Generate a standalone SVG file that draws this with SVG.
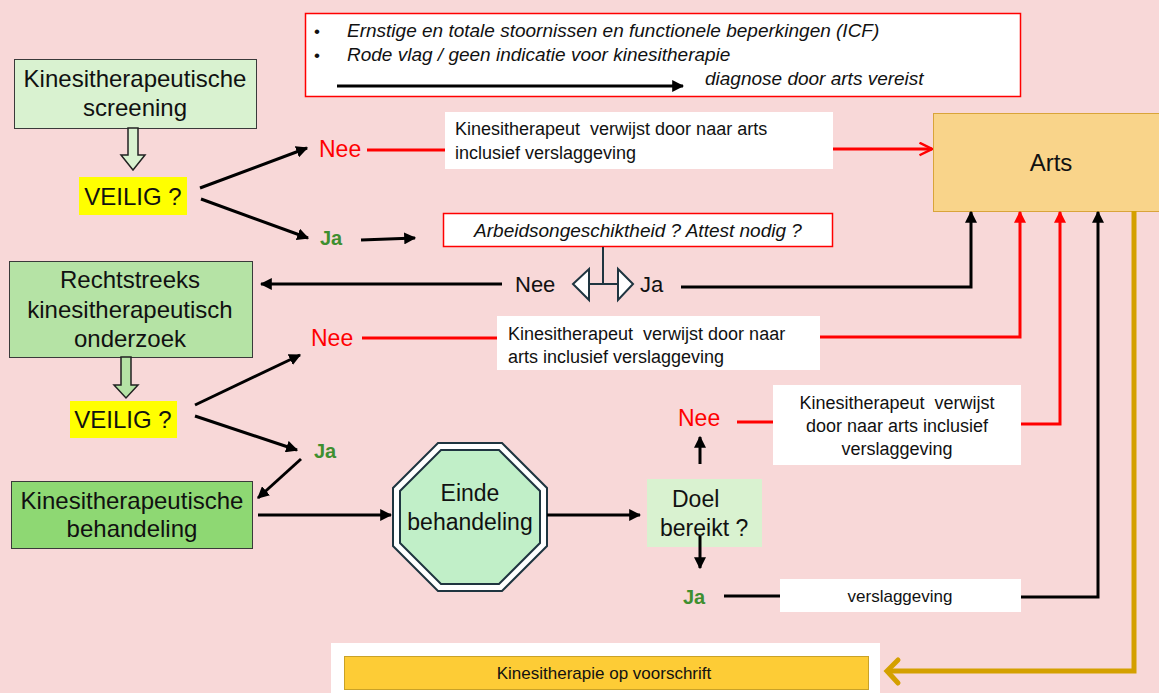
<svg xmlns="http://www.w3.org/2000/svg" width="1159" height="693" viewBox="0 0 1159 693">
<style>
text{font-family:"Liberation Sans",Arial,sans-serif;fill:#111}
.big{font-size:24px}
.mid{font-size:23px}
.sm{font-size:18px;white-space:pre}
.xs{font-size:17px}
.it{font-style:italic;font-size:19px}
.nee{fill:#ff0000;font-size:23px}
.nb{font-size:22px}
.ja{fill:#3f8f2f;font-size:20px;font-weight:bold}
.blk{stroke:#000;stroke-width:3;fill:none}
.red{stroke:#ff0000;stroke-width:3;fill:none}
.wbox{fill:#fff}
</style>
<defs>
<marker id="ab" viewBox="0 0 10 10" refX="9" refY="5" markerWidth="4" markerHeight="4" orient="auto" markerUnits="strokeWidth"><path d="M0,0 L10,5 L0,10 Z" fill="#000"/></marker>
<marker id="ar" viewBox="0 0 10 10" refX="9" refY="5" markerWidth="4" markerHeight="4" orient="auto" markerUnits="strokeWidth"><path d="M0,0 L10,5 L0,10 Z" fill="#ff0000"/></marker>
<marker id="aro" viewBox="0 0 12 12" refX="11" refY="6" markerWidth="5" markerHeight="5" orient="auto" markerUnits="strokeWidth"><path d="M1,1 L11,6 L1,11" fill="none" stroke="#ff0000" stroke-width="2"/></marker>
</defs>
<rect width="1159" height="693" fill="#f8d8d8"/>

<g id="info">
<rect x="305.5" y="13.5" width="715" height="83" fill="#fff" stroke="#ff0000" stroke-width="1.5"/>
<text x="314" y="37" class="xs">•</text>
<text x="347" y="37" class="it">Ernstige en totale stoornissen en functionele beperkingen (ICF)</text>
<text x="314" y="61" class="xs">•</text>
<text x="347" y="61" class="it">Rode vlag / geen indicatie voor kinesitherapie</text>
<line x1="337" y1="86" x2="683" y2="86" class="blk" marker-end="url(#ab)"/>
<text x="705" y="85" class="it">diagnose door arts vereist</text>
</g>

<g id="screening">
<rect x="14.5" y="59.5" width="242" height="69" fill="#d9f2d0" stroke="#3a3a3a"/>
<text x="135" y="87" class="big" text-anchor="middle">Kinesitherapeutische</text>
<text x="135" y="116" class="big" text-anchor="middle">screening</text>
</g>
<path id="hollow1" d="M128,128 H138 V155 H145 L133,170 L121,155 H128 Z" fill="#d9f2d0" stroke="#222" stroke-width="1.5"/>

<g id="veilig1">
<rect x="79" y="177" width="108" height="38" fill="#ffff00"/>
<text x="133" y="205" class="big" text-anchor="middle">VEILIG ?</text>
</g>

<g id="nee1"><text x="319" y="157" class="nee">Nee</text></g>
<g id="ja1"><text x="320" y="245" class="ja">Ja</text></g>

<g id="verwijst1">
<rect x="445" y="112" width="388" height="57" class="wbox"/>
<text x="455" y="135" class="sm">Kinesitherapeut  verwijst door naar arts</text>
<text x="455" y="159" class="sm">inclusief verslaggeving</text>
</g>

<g id="arts">
<rect x="933.5" y="113.5" width="230" height="98" fill="#f9d48a" stroke="#d9a43a"/>
<text x="1051" y="171" class="big" text-anchor="middle">Arts</text>
</g>

<g id="attest">
<rect x="443.5" y="213.5" width="389" height="33" fill="#fff" stroke="#ff0000" stroke-width="1.5"/>
<text x="638" y="237" class="it" text-anchor="middle">Arbeidsongeschiktheid ? Attest nodig ?</text>
</g>

<g id="nee2"><text x="515" y="292" class="nb">Nee</text></g>
<g id="ja2"><text x="640" y="292" class="nb">Ja</text></g>

<g id="onderzoek">
<rect x="9.5" y="261.5" width="243" height="96" fill="#b5e3a5" stroke="#3a3a3a"/>
<text x="130" y="288" class="big" text-anchor="middle">Rechtstreeks</text>
<text x="130" y="318" class="big" text-anchor="middle">kinesitherapeutisch</text>
<text x="130" y="347" class="big" text-anchor="middle">onderzoek</text>
</g>
<path id="hollow2" d="M121,357 H131 V385 H138 L126,398 L114,385 H121 Z" fill="#b5e3a5" stroke="#222" stroke-width="1.5"/>

<g id="veilig2">
<rect x="70" y="401" width="107" height="37" fill="#ffff00"/>
<text x="123" y="428" class="big" text-anchor="middle">VEILIG ?</text>
</g>

<g id="nee3"><text x="311" y="346" class="nee">Nee</text></g>
<g id="verwijst2">
<rect x="497" y="316" width="323" height="54" class="wbox"/>
<text x="508" y="340" class="sm">Kinesitherapeut  verwijst door naar</text>
<text x="508" y="363" class="sm">arts inclusief verslaggeving</text>
</g>

<g id="ja3"><text x="314" y="458" class="ja">Ja</text></g>

<g id="behandeling">
<rect x="11.5" y="481.5" width="241" height="67" fill="#8ed873" stroke="#3a3a3a"/>
<text x="132" y="509" class="big" text-anchor="middle">Kinesitherapeutische</text>
<text x="132" y="537" class="big" text-anchor="middle">behandeling</text>
</g>

<g id="einde">
<polygon points="438,443 502,443 547,488 547,546 502,591 438,591 393,546 393,488" fill="#fff" stroke="#1f3540" stroke-width="2"/>
<polygon points="441,450 499,450 540,491 540,543 499,584 441,584 400,543 400,491" fill="#c1efc8" stroke="#1f3540" stroke-width="2"/>
<text x="470" y="501" class="mid" text-anchor="middle">Einde</text>
<text x="470" y="530" class="mid" text-anchor="middle">behandeling</text>
</g>

<g id="doel">
<rect x="647" y="479" width="115" height="68" fill="#d9f2d0"/>
<text x="672" y="507" class="mid">Doel</text>
<text x="660" y="536" class="mid">bereikt ?</text>
</g>

<g id="nee4"><text x="678" y="426" class="nee">Nee</text></g>
<g id="verwijst3">
<rect x="773" y="385" width="248" height="80" class="wbox"/>
<text x="897" y="409" class="sm" text-anchor="middle">Kinesitherapeut  verwijst</text>
<text x="897" y="432" class="sm" text-anchor="middle">door naar arts inclusief</text>
<text x="897" y="455" class="sm" text-anchor="middle">verslaggeving</text>
</g>

<g id="ja4"><text x="683" y="604" class="ja">Ja</text></g>
<g id="verslag">
<rect x="780" y="579" width="241" height="33" class="wbox"/>
<text x="900" y="602" class="xs" text-anchor="middle">verslaggeving</text>
</g>

<g id="voorschrift">
<rect x="331" y="643" width="549" height="50" fill="#fff"/>
<rect x="344.5" y="656.5" width="524" height="33" fill="#fdcc36" stroke="#c9a227"/>
<text x="604" y="679" class="xs" text-anchor="middle">Kinesitherapie op voorschrift</text>
</g>

<g id="connectors">
<line x1="200" y1="188" x2="307" y2="148" class="blk" marker-end="url(#ab)"/>
<line x1="201" y1="199" x2="308" y2="238" class="blk" marker-end="url(#ab)"/>
<line x1="367" y1="150" x2="445" y2="150" class="red"/>
<line x1="833" y1="149" x2="932" y2="149" class="red" marker-end="url(#aro)"/>
<line x1="361" y1="240" x2="415" y2="238" class="blk" marker-end="url(#ab)"/>
<line x1="603" y1="247" x2="603" y2="284" stroke="#1f3540" stroke-width="2"/>
<line x1="578" y1="284" x2="628" y2="284" stroke="#1f3540" stroke-width="2"/>
<polygon points="573,284 589,269 589,300" fill="#fff" stroke="#1f3540" stroke-width="2"/>
<polygon points="633,284 618,269 618,300" fill="#fff" stroke="#1f3540" stroke-width="2"/>
<line x1="502" y1="284" x2="261" y2="284" class="blk" marker-end="url(#ab)"/>
<polyline points="681,287 971,287 971,212" class="blk" marker-end="url(#ab)"/>
<line x1="195" y1="405" x2="300" y2="355" class="blk" marker-end="url(#ab)"/>
<line x1="195" y1="416" x2="297" y2="450" class="blk" marker-end="url(#ab)"/>
<line x1="362" y1="338" x2="497" y2="338" class="red"/>
<polyline points="820,337 1020,337 1020,212" class="red" marker-end="url(#ar)"/>
<line x1="301" y1="459" x2="258" y2="498" class="blk" marker-end="url(#ab)"/>
<line x1="258" y1="515" x2="391" y2="515" class="blk" marker-end="url(#ab)"/>
<line x1="547" y1="515" x2="640" y2="515" class="blk" marker-end="url(#ab)"/>
<line x1="700" y1="536" x2="700" y2="568" class="blk" marker-end="url(#ab)"/>
<line x1="700" y1="464" x2="700" y2="437" class="blk" marker-end="url(#ab)"/>
<line x1="737" y1="422" x2="773" y2="422" class="red"/>
<polyline points="1021,424 1060,424 1060,212" class="red" marker-end="url(#ar)"/>
<line x1="724" y1="596" x2="780" y2="596" class="blk"/>
<polyline points="1021,597 1098,597 1098,212" class="blk" marker-end="url(#ab)"/>
<polyline points="1134,211 1134,671 890,671" fill="none" stroke="#d4a000" stroke-width="5"/>
<polyline points="898,660 887,671 898,683" fill="none" stroke="#d4a000" stroke-width="5" stroke-linecap="round"/>
</g>
</svg>
